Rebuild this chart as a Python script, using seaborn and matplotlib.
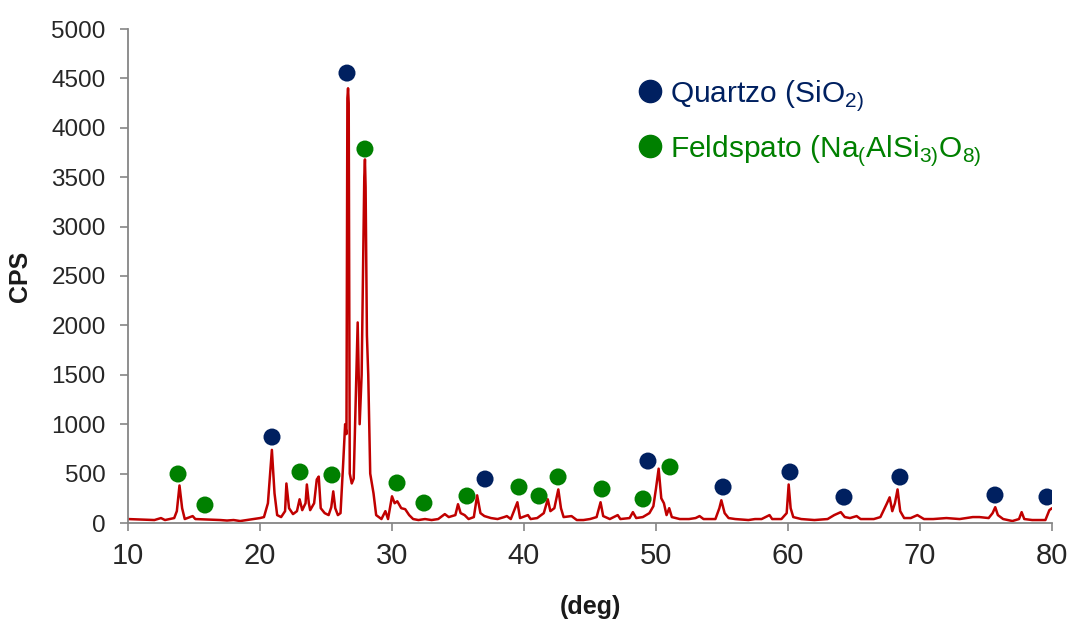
import numpy as np
import pandas as pd
import matplotlib.pyplot as plt
import seaborn as sns
from matplotlib.lines import Line2D

# XRD pattern (2-theta in deg, intensity in CPS)
two_theta = [10.0, 11.0, 12.0, 12.5, 12.8, 13.5, 13.7, 13.9, 14.1, 14.3, 14.9, 15.1, 16.0, 17.0,
             17.5, 18.0, 18.5, 19.0, 19.5, 20.0, 20.3, 20.6, 20.9, 21.1, 21.3, 21.6, 21.9, 22.0,
             22.2, 22.5, 22.8, 23.0, 23.2, 23.45, 23.55, 23.7, 23.8, 24.1, 24.3, 24.45, 24.6,
             24.9, 25.2, 25.4, 25.55, 25.7, 25.9, 26.1, 26.3, 26.45, 26.55, 26.62, 26.67, 26.72,
             26.8, 26.95, 27.1, 27.4, 27.55, 27.7, 27.9, 27.95, 28.0, 28.1, 28.2, 28.35, 28.6,
             28.8, 29.2, 29.5, 29.7,
             30.0, 30.2, 30.4, 30.7, 31.0, 31.3, 31.6, 32.0, 32.5, 33.0, 33.5, 34.0, 34.3, 34.8,
             35.0, 35.2, 35.5, 35.8, 36.2, 36.45, 36.7, 37.0, 37.5, 38.0, 38.5, 38.7, 39.0, 39.5,
             39.7, 40.3, 40.5, 41.0, 41.5, 41.8, 42.0, 42.3, 42.6, 42.8, 43.0, 43.6, 44.0, 44.5,
             45.0, 45.5, 45.8, 46.0, 46.5, 47.1, 47.3, 48.0, 48.25, 48.5, 49.0, 49.5, 49.8, 50.0,
             50.2, 50.4, 50.6, 50.8, 51.0, 51.2, 51.8, 52.5, 53.0, 53.3, 53.6, 54.5, 54.8, 54.95,
             55.2, 55.5, 56.0, 57.0, 57.5, 58.0, 58.6, 58.8, 59.5, 59.9, 60.05, 60.2, 60.4, 61.0,
             62.0, 63.0, 63.5, 64.0, 64.3, 64.7, 65.2, 65.5, 66.5, 67.0, 67.5, 67.7, 67.9, 68.1,
             68.3, 68.5, 68.8, 69.3, 69.8, 70.3, 71.0, 72.0, 73.0, 74.0, 74.5, 75.2, 75.5, 75.7,
             75.9, 76.3, 77.0, 77.5, 77.7, 77.9, 78.5, 79.5, 79.8, 80.0]
cps = [40, 35, 30, 50, 30, 50, 120, 380, 150, 40, 70, 40, 35, 30,
       25, 30, 20, 30, 40, 50, 60, 200, 740, 300, 80, 60, 120, 400,
       150, 90, 120, 240, 130, 200, 390, 200, 130, 200, 440, 470, 150,
       100, 80, 160, 320, 150, 80, 100, 600, 1000, 900, 4300, 4400, 4250,
       500, 400, 450, 2030, 1000, 1500, 3500, 3680, 3400, 1900, 1500, 500, 300,
       80, 40, 120, 40,
       270, 200, 220, 150, 140, 80, 40, 30, 40, 30, 40, 90, 60, 80,
       190, 100, 80, 40, 60, 280, 100, 70, 50, 40, 60, 70, 40, 210,
       50, 80, 40, 50, 100, 240, 120, 150, 340, 150, 60, 70, 30, 30,
       40, 60, 210, 70, 40, 80, 40, 50, 110, 50, 60, 100, 170, 350,
       550, 250, 200, 80, 150, 60, 40, 40, 50, 70, 40, 40, 150, 230,
       100, 50, 40, 30, 40, 40, 80, 40, 40, 100, 390, 150, 60, 40,
       30, 40, 80, 110, 60, 50, 70, 40, 40, 60, 200, 260, 120, 200,
       340, 120, 50, 50, 80, 40, 40, 50, 40, 60, 60, 50, 100, 160,
       80, 40, 20, 40, 110, 40, 30, 30, 130, 150]

# phase markers
quartz_x = [26.59, 20.91, 37.05, 49.39, 55.08, 60.15, 64.24, 68.48, 75.68, 79.62]
quartz_y = [4554, 870, 445, 627, 364, 516, 262, 465, 283, 263]
feld_x = [13.79, 15.83, 23.03, 25.45, 27.95, 30.38, 32.42, 35.68, 39.62, 41.14, 42.58,
          45.91, 49.02, 51.06]
feld_y = [496, 182, 516, 486, 3785, 405, 202, 273, 364, 273, 466, 344, 243, 567]

x_ticks = [10, 20, 30, 40, 50, 60, 70, 80]
y_ticks = [0, 500, 1000, 1500, 2000, 2500, 3000, 3500, 4000, 4500, 5000]

navy = "#002060"
green = "#008000"
red = "#C00000"

sns.set_style("white")
plt.rcParams['font.family'] = ['Liberation Sans', 'DejaVu Sans']
plt.rcParams['mathtext.fontset'] = 'custom'
plt.rcParams['mathtext.rm'] = 'Liberation Sans'

fig = plt.figure(figsize=(10.68, 6.19), dpi=100)
ax = fig.add_axes([128 / 1068, 1 - 523 / 619, (1052 - 128) / 1068, (523 - 29) / 619])

df = pd.DataFrame({"deg": two_theta, "CPS": cps})
sns.lineplot(data=df, x="deg", y="CPS", ax=ax, color=red, linewidth=1.8, sort=False)
sns.scatterplot(x=quartz_x, y=quartz_y, ax=ax, color=navy, s=150, edgecolor="none", zorder=3)
sns.scatterplot(x=feld_x, y=feld_y, ax=ax, color=green, s=150, edgecolor="none", zorder=3)

ax.set_xlim(10, 80)
ax.set_ylim(0, 5000)
ax.set_xticks(x_ticks)
ax.set_yticks(y_ticks)
for s in ["top", "right"]:
    ax.spines[s].set_visible(False)
for s in ["left", "bottom"]:
    ax.spines[s].set_color("#868686")
    ax.spines[s].set_linewidth(1.3)
ax.tick_params(axis="both", direction="out", length=6, width=1.2, color="#868686",
               labelcolor="#262626")
ax.tick_params(axis="y", labelsize=17.5, pad=10, left=True)
ax.tick_params(axis="x", labelsize=21, pad=8, bottom=True)

ax.set_xlabel("(deg)", fontsize=18, fontweight="bold", color="#1a1a1a")
ax.xaxis.set_label_coords(0.5, -0.145)
ax.set_ylabel("CPS", fontsize=18, fontweight="bold", color="#1a1a1a")
ax.yaxis.set_label_coords(-0.104, 0.5)

handles = [Line2D([], [], marker="o", linestyle="none", color=navy, markersize=16),
           Line2D([], [], marker="o", linestyle="none", color=green, markersize=16)]
labels = [r"Quartzo (SiO$_\mathregular{2)}$",
          r"Feldspato (Na$_\mathregular{(}$AlSi$_\mathregular{3)}$O$_\mathregular{8)}$"]
leg = ax.legend(handles, labels, loc="upper left", bbox_to_anchor=(619 / 1068, 1 - 63 / 619),
                bbox_transform=fig.transFigure, frameon=False, fontsize=21.5,
                handletextpad=0.1, handlelength=1.1, labelspacing=0.68, borderpad=0)
leg.get_texts()[0].set_color(navy)
leg.get_texts()[1].set_color(green)

fig.savefig("out.png", dpi=100)
